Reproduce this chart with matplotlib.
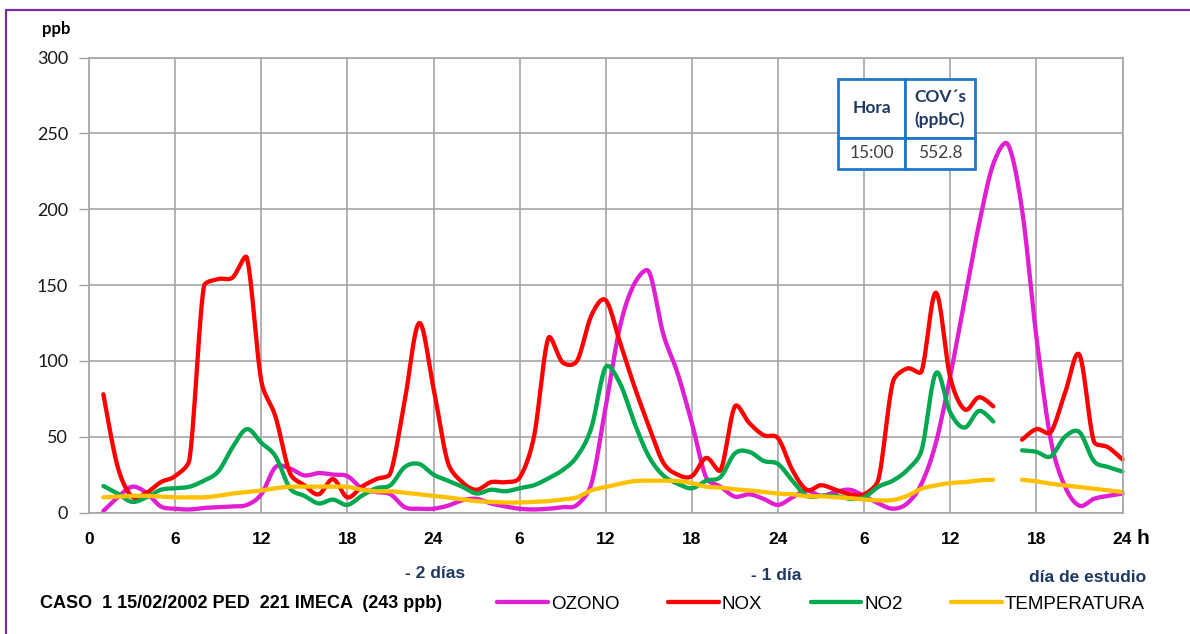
import numpy as np
import matplotlib
matplotlib.use("Agg")
import matplotlib.pyplot as plt
from matplotlib import font_manager
from matplotlib.lines import Line2D

# hourly readings over three days (h = 1..72), nan = no reading
hours = np.arange(1, 73)

ozono = [1, 10, 17, 13, 4, 2.5, 2, 3, 3.5, 4, 5, 12, 30, 29, 24.5, 26, 25, 24, 16, 13.5, 12, 3.5, 2.5, 2.5,
         4.5, 8, 9, 6, 4, 2.5, 2, 2.5, 3.5, 5, 19, 70, 123, 151, 159, 118, 92, 59, 23, 17, 10.5, 12, 9, 5,
         10, 14.5, 11, 13.5, 15, 11, 6, 2.5, 6, 19, 46, 90, 140, 190, 230, 243, 200, 116, 48, 17, 4.5, 9, 11, 12.5]
nox = [78, 30, 10.5, 13, 20, 24, 35, 149, 154, 155, 168, 87, 63, 26, 18, 12, 22, 10, 17, 22, 26, 74, 125, 82,
       33, 20, 15, 20, 20, 23, 50, 115, 99, 100, 130, 140, 112, 83, 57, 33, 25, 24, 36, 28, 70, 59, 51, 49,
       28, 15, 18, 15, 12, 12, 22, 86, 95, 93, 145, 89, 68, 76, 70, np.nan, 48, 55, 53, 79, 104, 47, 43, 35]
no2 = [17.5, 12.5, 7, 10, 15, 16, 17, 21, 27, 43, 55, 46, 37, 16, 11, 6, 8.5, 5, 11, 16, 18, 30, 32, 25,
       21, 17, 12.5, 15, 14, 16, 18, 22.5, 28, 37, 56, 96, 85, 59, 37, 24.5, 19, 16, 21, 23.5, 39, 40, 34, 32,
       21, 11, 11, 11, 9, 10, 17, 21, 28, 41, 92, 66, 56, 67, 60, np.nan, 41, 40, 37, 50, 53, 34, 30, 27]
temperatura = [10, 10.5, 11, 11, 10.5, 10, 10, 10, 11, 12.5, 13.5, 14.5, 16, 17, 17, 17, 17, 17, 15, 14, 14, 13, 12, 11,
               10, 8.6, 7.5, 7, 6.6, 6.6, 7, 7.5, 8.6, 10, 14.6, 16.8, 19, 20.7, 21, 21, 20.7, 19.4, 17, 16.4, 15.3, 14.6, 13.5, 12.5,
               12, 10.7, 10.7, 10, 9.5, 8.6, 8, 8.2, 11, 15.7, 17.9, 19.4, 20, 21.2, 21.6, np.nan, 21.6, 20.6, 19, 17.9, 16.8, 15.7, 14.6, 13.5]

series_names = ["OZONO", "NOX", "NO2", "TEMPERATURA"]
series_colors = ["#E01ED2", "#FF0000", "#00A850", "#FFC000"]

xtick_pos = np.arange(0, 73, 6)
xtick_labels = ["0", "6", "12", "18", "24", "6", "12", "18", "24", "6", "12", "18", "24"]
day_labels = ["- 2 días", "- 1 día", "día de estudio"]
day_label_x = [24.1, 47.9, 69.6]

table_rows = [["Hora", "COV´s\n(ppbC)"], ["15:00", "552.8"]]
caption = "CASO  1 15/02/2002 PED  221 IMECA  (243 ppb)"

# rough screen scale (px per hour, px per ppb) used to tame the curve
SCALE = np.array([14.36, 1.51])


def smooth(x, y, n=14):
    """Bezier smoothing through every point, broken at nan gaps.
    Control arms are shortened next to a much shorter segment so the curve
    does not overshoot at sharp corners."""
    x = np.asarray(x, float)
    y = np.asarray(y, float)
    idx = np.where(~np.isnan(y))[0]
    runs = np.split(idx, np.where(np.diff(idx) > 1)[0] + 1)
    out_x, out_y = [], []
    t = np.linspace(0, 1, n)[:, None]
    for r in runs:
        P = np.column_stack([x[r], y[r]])
        E = np.vstack([P[0], P, P[-1]])
        fwd, back = [], []
        for j in range(1, len(E) - 1):
            tan = (E[j + 1] - E[j - 1]) / 6
            dp = np.linalg.norm((E[j] - E[j - 1]) * SCALE)
            dn = np.linalg.norm((E[j + 1] - E[j]) * SCALE)
            kf = min(1.0, 2 * dn / dp) if dp > 0 else 1.0
            kb = min(1.0, 2 * dp / dn) if dn > 0 else 1.0
            fwd.append(E[j] + tan * kf)
            back.append(E[j] - tan * kb)
        for i in range(len(P) - 1):
            p0, p3 = P[i], P[i + 1]
            c1, c2 = fwd[i], back[i + 1]
            b = (1 - t) ** 3 * p0 + 3 * (1 - t) ** 2 * t * c1 + 3 * (1 - t) * t ** 2 * c2 + t ** 3 * p3
            out_x.extend(b[:, 0])
            out_y.extend(b[:, 1])
        out_x.append(np.nan)
        out_y.append(np.nan)
    return np.array(out_x), np.array(out_y)


names = {f.name for f in font_manager.fontManager.ttflist}
narrow = "Liberation Sans Narrow" if "Liberation Sans Narrow" in names else "Liberation Sans"
plain = "Lato" if "Lato" in names else "DejaVu Sans"

W, H = 1190, 634
fig = plt.figure(figsize=(W / 100, H / 100), dpi=100)
x0, x1, y0, y1 = 89, 1122.5, 512.5, 57.7
ax = fig.add_axes([x0 / W, 1 - y0 / H, (x1 - x0) / W, (y0 - y1) / H])

grid_c = "#A6A6A6"
ax.set_xlim(0, 72)
ax.set_ylim(0, 300)
ax.set_xticks(xtick_pos)
ax.set_xticklabels(xtick_labels, fontfamily=narrow, fontweight="bold", fontsize=12.5)
ax.set_yticks(np.arange(0, 301, 50))
ax.set_yticklabels([str(v) for v in range(0, 301, 50)], fontfamily=plain, fontsize=13, color="#1a1a1a")
ax.tick_params(axis="x", length=0, pad=14)
ax.tick_params(axis="y", length=7, width=1, color=grid_c, pad=8)
ax.grid(True, color=grid_c, lw=1.2)
ax.set_axisbelow(True)
for s in ax.spines.values():
    s.set_color(grid_c)
    s.set_linewidth(1.2)

for name, vals, col in zip(series_names, [ozono, nox, no2, temperatura], series_colors):
    sx, sy = smooth(hours, vals)
    ax.plot(sx, sy, color=col, lw=3.1, label=name, solid_capstyle="round", clip_on=False)

# small data table in the upper right
tbl = ax.table(cellText=table_rows, cellLoc="center",
               bbox=[(838 - x0) / (x1 - x0), (y0 - 169) / (y0 - y1),
                     137 / (x1 - x0), 90 / (y0 - y1)])
tbl.auto_set_font_size(False)
for (r, c), cell in tbl.get_celld().items():
    cell.set_edgecolor("#1F78C8")
    cell.set_linewidth(2)
    cell.set_facecolor("white")
    cell.set_height(59 if r == 0 else 31)
    cell.set_width(67 if c == 0 else 70)
    txt = cell.get_text()
    txt.set_fontfamily(plain)
    txt.set_fontsize(12.5)
    if r == 0:
        txt.set_color("#1F3864")
        txt.set_fontweight("bold")
        txt.set_linespacing(1.5)
    else:
        txt.set_color("#404040")
tbl.set_zorder(5)

fig.text(56 / W, 1 - 29 / H, "ppb", ha="center", va="center", fontfamily=plain,
         fontweight="bold", fontsize=12)
fig.text(1143 / W, 1 - 539 / H, "h", ha="center", va="center", fontfamily=narrow,
         fontweight="bold", fontsize=15)

for lbl, xd, yp in zip(day_labels, day_label_x, [573, 576, 578]):
    fig.text((x0 + xd * (x1 - x0) / 72) / W, 1 - yp / H, lbl, ha="center", va="center",
             fontfamily=narrow, fontweight="bold", fontsize=12.5, color="#1F3864")

fig.text(40 / W, 1 - 604 / H, caption, ha="left", va="center", fontfamily=narrow,
         fontweight="bold", fontsize=13)

fig.legend(loc="center", bbox_to_anchor=(821 / W, 1 - 604 / H), ncol=4, frameon=False,
           prop={"family": narrow, "size": 13.5}, handlelength=2.7, handletextpad=0.15,
           columnspacing=2.6)

# purple frame round the chart
fig.add_artist(Line2D([5.5 / W, 5.5 / W, 1], [0, 1 - 10 / H, 1 - 10 / H],
                      transform=fig.transFigure, color="#7030A0", lw=1.6))

fig.savefig("out.png", dpi=100)
